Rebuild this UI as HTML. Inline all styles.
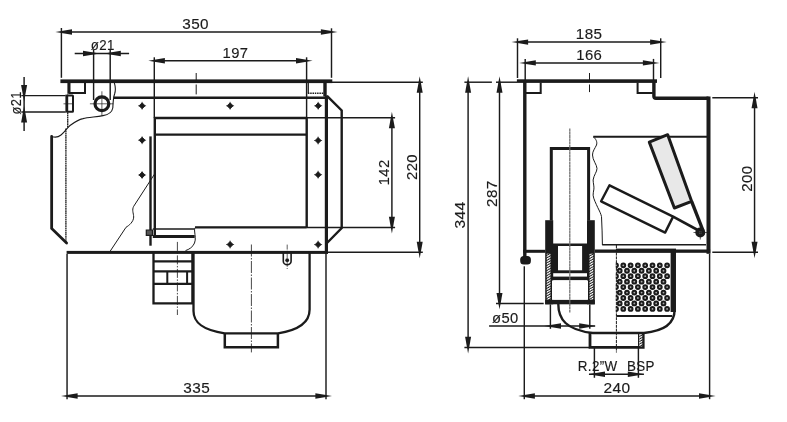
<!DOCTYPE html>
<html lang="en">
<head>
<meta charset="utf-8">
<title>Skimmer dimensions</title>
<style>
html,body{margin:0;padding:0;background:#fff;}
body{width:787px;height:422px;overflow:hidden;}
svg{display:block;will-change:transform;filter:grayscale(1);}
text{font-family:"Liberation Sans",Arial,Helvetica,sans-serif;fill:#1b1b1b;stroke:#1b1b1b;stroke-width:0.15px;}
</style>
</head>
<body>
<svg width="787" height="422" viewBox="0 0 787 422">
<defs>
<pattern id="hatch" width="2.2" height="2.2" patternUnits="userSpaceOnUse" patternTransform="rotate(-30)">
<rect width="2.2" height="2.2" fill="#1b1b1b"/><rect width="2.2" height="1.2" fill="#fff"/>
</pattern>
</defs>
<rect width="787" height="422" fill="#fff"/>
<line x1="61.4" y1="31.95" x2="331.5" y2="31.95" stroke="#1b1b1b" stroke-width="1.45" />
<line x1="61.4" y1="28" x2="61.4" y2="77.8" stroke="#1b1b1b" stroke-width="1.45" />
<line x1="331.5" y1="28.3" x2="331.5" y2="77.8" stroke="#1b1b1b" stroke-width="1.45" />
<polygon points="55.4,31.95 72.0,29.25 72.0,34.65" fill="#1b1b1b"/>
<polygon points="337.5,31.95 320.9,29.25 320.9,34.65" fill="#1b1b1b"/>
<line x1="154.3" y1="60.8" x2="306.6" y2="60.8" stroke="#1b1b1b" stroke-width="1.45" />
<line x1="154.3" y1="57.3" x2="154.3" y2="118" stroke="#1b1b1b" stroke-width="1.45" />
<line x1="306.6" y1="57.3" x2="306.6" y2="118" stroke="#1b1b1b" stroke-width="1.45" />
<polygon points="148.3,60.8 164.9,58.1 164.9,63.5" fill="#1b1b1b"/>
<polygon points="312.6,60.8 296.0,58.1 296.0,63.5" fill="#1b1b1b"/>
<line x1="74.7" y1="53.5" x2="129.1" y2="53.5" stroke="#1b1b1b" stroke-width="1.45" />
<line x1="93.6" y1="49.5" x2="93.6" y2="100" stroke="#1b1b1b" stroke-width="1.45" />
<line x1="110.2" y1="49.5" x2="110.2" y2="100" stroke="#1b1b1b" stroke-width="1.45" />
<polygon points="99.6,53.5 83.0,50.8 83.0,56.2" fill="#1b1b1b"/>
<polygon points="104.2,53.5 120.8,50.8 120.8,56.2" fill="#1b1b1b"/>
<line x1="24.1" y1="76.9" x2="24.1" y2="131" stroke="#1b1b1b" stroke-width="1.45" />
<line x1="21.3" y1="95.6" x2="65.6" y2="95.6" stroke="#1b1b1b" stroke-width="1.45" />
<line x1="21.3" y1="111.9" x2="65.6" y2="111.9" stroke="#1b1b1b" stroke-width="1.45" />
<polygon points="24.1,101.6 21.1,85.0 27.1,85.0" fill="#1b1b1b"/>
<polygon points="24.1,105.9 21.1,122.5 27.1,122.5" fill="#1b1b1b"/>
<line x1="391.9" y1="117.7" x2="391.9" y2="227.4" stroke="#1b1b1b" stroke-width="1.45" />
<line x1="306.7" y1="117.7" x2="395.1" y2="117.7" stroke="#1b1b1b" stroke-width="1.45" />
<line x1="306.7" y1="227.4" x2="395.1" y2="227.4" stroke="#1b1b1b" stroke-width="1.45" />
<polygon points="391.9,111.7 388.9,128.3 394.9,128.3" fill="#1b1b1b"/>
<polygon points="391.9,233.4 388.9,216.8 394.9,216.8" fill="#1b1b1b"/>
<line x1="419.7" y1="82.2" x2="419.7" y2="252.3" stroke="#1b1b1b" stroke-width="1.45" />
<line x1="332" y1="82.2" x2="422.8" y2="82.2" stroke="#1b1b1b" stroke-width="1.45" />
<line x1="326.5" y1="252.3" x2="422.8" y2="252.3" stroke="#1b1b1b" stroke-width="1.45" />
<polygon points="419.7,76.2 416.7,92.8 422.7,92.8" fill="#1b1b1b"/>
<polygon points="419.7,258.3 416.7,241.7 422.7,241.7" fill="#1b1b1b"/>
<line x1="67.05" y1="395.95" x2="326" y2="395.95" stroke="#1b1b1b" stroke-width="1.45" />
<line x1="67.05" y1="254" x2="67.05" y2="399.2" stroke="#1b1b1b" stroke-width="1.45" />
<line x1="326" y1="254" x2="326" y2="399.2" stroke="#1b1b1b" stroke-width="1.45" />
<polygon points="61.05,395.95 77.65,393.25 77.65,398.65" fill="#1b1b1b"/>
<polygon points="332.0,395.95 315.4,393.25 315.4,398.65" fill="#1b1b1b"/>
<line x1="468.1" y1="82" x2="468.1" y2="347.4" stroke="#1b1b1b" stroke-width="1.45" />
<line x1="464.4" y1="82.2" x2="491.9" y2="82.2" stroke="#1b1b1b" stroke-width="1.45" />
<line x1="464.4" y1="347.4" x2="589.8" y2="347.4" stroke="#1b1b1b" stroke-width="1.45" />
<polygon points="468.1,76.2 465.1,92.8 471.1,92.8" fill="#1b1b1b"/>
<polygon points="468.1,353.4 465.1,336.8 471.1,336.8" fill="#1b1b1b"/>
<line x1="499.5" y1="81.9" x2="499.5" y2="303.5" stroke="#1b1b1b" stroke-width="1.45" />
<line x1="496" y1="82.2" x2="517" y2="82.2" stroke="#1b1b1b" stroke-width="1.45" />
<line x1="496" y1="303.5" x2="543.7" y2="303.5" stroke="#1b1b1b" stroke-width="1.45" />
<polygon points="499.5,76.2 496.5,92.8 502.5,92.8" fill="#1b1b1b"/>
<polygon points="499.5,309.5 496.5,292.9 502.5,292.9" fill="#1b1b1b"/>
<rect x="60.4" y="79.4" width="271.9" height="3.7" fill="#1b1b1b"/>
<rect x="67.4" y="82" width="3.1" height="11.8" fill="#1b1b1b"/>
<line x1="69" y1="93" x2="86" y2="93" stroke="#1b1b1b" stroke-width="2" />
<line x1="85" y1="82.6" x2="85" y2="94" stroke="#1b1b1b" stroke-width="2" />
<rect x="65.4" y="94.6" width="2.8" height="18.0" fill="#1b1b1b"/>
<path d="M67,95.4 H72.4 Q73,95.4 73,96 V111.2 Q73,111.8 72.4,111.8 H67" fill="none" stroke="#1b1b1b" stroke-width="2.0" />
<line x1="63.5" y1="103.8" x2="73" y2="103.8" stroke="#1b1b1b" stroke-width="0.7" />
<line x1="67.7" y1="112.5" x2="67.7" y2="128" stroke="#2a2a2a" stroke-width="1.4" stroke-dasharray="1.7 0.45"/>
<line x1="65.9" y1="128.5" x2="65.9" y2="243" stroke="#2a2a2a" stroke-width="1.4" stroke-dasharray="1.7 0.45"/>
<circle cx="101.9" cy="103.8" r="6.9" fill="none" stroke="#1b1b1b" stroke-width="3.2"/>
<line x1="89.9" y1="103.8" x2="113.4" y2="103.8" stroke="#1b1b1b" stroke-width="0.7" />
<line x1="101.9" y1="91.3" x2="101.9" y2="115.8" stroke="#1b1b1b" stroke-width="0.7" />
<path d="M114.3,82.6 C115.6,87 115.6,91 114.6,94 C113.4,97 113,103 112.8,108 C112,112.5 109,114.5 103,115.6 C95,117 88,117.2 83,118.6 C78,119.5 74,122.5 70,125.5 C67,128 64.5,132.5 61,135 C58,137.3 54.5,137.6 51.5,136.2" fill="none" stroke="#1b1b1b" stroke-width="1.1" />
<line x1="113.5" y1="97.75" x2="327" y2="97.75" stroke="#1b1b1b" stroke-width="2.4" />
<line x1="196.2" y1="73" x2="196.2" y2="94.4" stroke="#1b1b1b" stroke-width="1.0" stroke-dasharray="9 2.5 12"/>
<path d="M307.9,93.3 H324 " fill="none" stroke="#1b1b1b" stroke-width="1.6" stroke-dasharray="1.5 0.8"/>
<line x1="308.3" y1="83" x2="308.3" y2="93.6" stroke="#1b1b1b" stroke-width="1.2" />
<rect x="323.3" y="82.5" width="3.4" height="14.0" fill="#1b1b1b"/>
<rect x="324.8" y="95.5" width="3.2" height="158.3" fill="#1b1b1b"/>
<path d="M327,95.8 L341.7,110.4 V228 L327,243" fill="none" stroke="#1b1b1b" stroke-width="2.4" />
<path d="M154.8,236 V118 H306.7 V227.4" fill="none" stroke="#1b1b1b" stroke-width="2.4" stroke-linejoin="round"/>
<line x1="154.8" y1="134.6" x2="306.7" y2="134.6" stroke="#1b1b1b" stroke-width="2.4" />
<path d="M306.7,227.4 H196 C194.5,227.4 194.5,229 194.6,231 C195,236 196,239 194.5,243 C193,247 189,249.5 185.5,250.6" fill="none" stroke="#1b1b1b" stroke-width="1.0" />
<line x1="195" y1="227.4" x2="306.7" y2="227.4" stroke="#1b1b1b" stroke-width="2.4" />
<line x1="150.5" y1="136.4" x2="150.5" y2="245.7" stroke="#1b1b1b" stroke-width="2.4" />
<path d="M146.3,230 H152.5 V235.3 H146.3 Z" fill="#555" stroke="#1b1b1b" stroke-width="1.2" />
<line x1="152.8" y1="229" x2="194.7" y2="229" stroke="#1b1b1b" stroke-width="1.5" />
<line x1="152.8" y1="236.6" x2="194.7" y2="236.6" stroke="#1b1b1b" stroke-width="3" />
<rect x="66.6" y="250.9" width="261.2" height="3.0" fill="#1b1b1b"/>
<path d="M139.1,105.8 L142.1,102.8 L145.1,105.8 L142.1,108.8 Z" fill="#1b1b1b" stroke="#1b1b1b" stroke-width="0.9" stroke-linejoin="miter"/>
<line x1="138.1" y1="105.8" x2="146.1" y2="105.8" stroke="#1b1b1b" stroke-width="0.6" />
<line x1="142.1" y1="101.8" x2="142.1" y2="109.8" stroke="#1b1b1b" stroke-width="0.6" />
<path d="M227.1,105.8 L230.1,102.8 L233.1,105.8 L230.1,108.8 Z" fill="#1b1b1b" stroke="#1b1b1b" stroke-width="0.9" stroke-linejoin="miter"/>
<line x1="226.1" y1="105.8" x2="234.1" y2="105.8" stroke="#1b1b1b" stroke-width="0.6" />
<line x1="230.1" y1="101.8" x2="230.1" y2="109.8" stroke="#1b1b1b" stroke-width="0.6" />
<path d="M315.2,105.8 L318.2,102.8 L321.2,105.8 L318.2,108.8 Z" fill="#1b1b1b" stroke="#1b1b1b" stroke-width="0.9" stroke-linejoin="miter"/>
<line x1="314.2" y1="105.8" x2="322.2" y2="105.8" stroke="#1b1b1b" stroke-width="0.6" />
<line x1="318.2" y1="101.8" x2="318.2" y2="109.8" stroke="#1b1b1b" stroke-width="0.6" />
<path d="M139.1,140.2 L142.1,137.2 L145.1,140.2 L142.1,143.2 Z" fill="#1b1b1b" stroke="#1b1b1b" stroke-width="0.9" stroke-linejoin="miter"/>
<line x1="138.1" y1="140.2" x2="146.1" y2="140.2" stroke="#1b1b1b" stroke-width="0.6" />
<line x1="142.1" y1="136.2" x2="142.1" y2="144.2" stroke="#1b1b1b" stroke-width="0.6" />
<path d="M139.1,175 L142.1,172.0 L145.1,175 L142.1,178.0 Z" fill="#1b1b1b" stroke="#1b1b1b" stroke-width="0.9" stroke-linejoin="miter"/>
<line x1="138.1" y1="175" x2="146.1" y2="175" stroke="#1b1b1b" stroke-width="0.6" />
<line x1="142.1" y1="171.0" x2="142.1" y2="179.0" stroke="#1b1b1b" stroke-width="0.6" />
<path d="M315.1,140.5 L318.1,137.5 L321.1,140.5 L318.1,143.5 Z" fill="#1b1b1b" stroke="#1b1b1b" stroke-width="0.9" stroke-linejoin="miter"/>
<line x1="314.1" y1="140.5" x2="322.1" y2="140.5" stroke="#1b1b1b" stroke-width="0.6" />
<line x1="318.1" y1="136.5" x2="318.1" y2="144.5" stroke="#1b1b1b" stroke-width="0.6" />
<path d="M315.1,174.7 L318.1,171.7 L321.1,174.7 L318.1,177.7 Z" fill="#1b1b1b" stroke="#1b1b1b" stroke-width="0.9" stroke-linejoin="miter"/>
<line x1="314.1" y1="174.7" x2="322.1" y2="174.7" stroke="#1b1b1b" stroke-width="0.6" />
<line x1="318.1" y1="170.7" x2="318.1" y2="178.7" stroke="#1b1b1b" stroke-width="0.6" />
<path d="M227.1,244.5 L230.1,241.5 L233.1,244.5 L230.1,247.5 Z" fill="#1b1b1b" stroke="#1b1b1b" stroke-width="0.9" stroke-linejoin="miter"/>
<line x1="226.1" y1="244.5" x2="234.1" y2="244.5" stroke="#1b1b1b" stroke-width="0.6" />
<line x1="230.1" y1="240.5" x2="230.1" y2="248.5" stroke="#1b1b1b" stroke-width="0.6" />
<path d="M315.1,244.6 L318.1,241.6 L321.1,244.6 L318.1,247.6 Z" fill="#1b1b1b" stroke="#1b1b1b" stroke-width="0.9" stroke-linejoin="miter"/>
<line x1="314.1" y1="244.6" x2="322.1" y2="244.6" stroke="#1b1b1b" stroke-width="0.6" />
<line x1="318.1" y1="240.6" x2="318.1" y2="248.6" stroke="#1b1b1b" stroke-width="0.6" />
<path d="M51.65,136.4 V228.5 L66.6,243" fill="none" stroke="#1b1b1b" stroke-width="2.8" stroke-linecap="round"/>
<path d="M154.6,174 L133.7,206.3 C131.7,210 133.5,213 133.7,217 C133.5,222 129,225.5 126,227.3 L110.3,251" fill="none" stroke="#1b1b1b" stroke-width="1.0" />
<path d="M153.5,252 V303.3 H192.4 V252" fill="none" stroke="#1b1b1b" stroke-width="2.3" />
<line x1="153.5" y1="261.4" x2="192.4" y2="261.4" stroke="#1b1b1b" stroke-width="2.3" />
<line x1="153.5" y1="271.3" x2="192.4" y2="271.3" stroke="#1b1b1b" stroke-width="2.3" />
<line x1="153.5" y1="283.9" x2="192.4" y2="283.9" stroke="#1b1b1b" stroke-width="2.3" />
<line x1="167.3" y1="271.3" x2="167.3" y2="283.9" stroke="#1b1b1b" stroke-width="2.0" />
<line x1="187.1" y1="271.3" x2="187.1" y2="283.9" stroke="#1b1b1b" stroke-width="2.0" />
<line x1="177.4" y1="241.9" x2="177.4" y2="315" stroke="#1b1b1b" stroke-width="0.8" stroke-dasharray="9 1.5 1.5 1.5"/>
<path d="M193.5,252 V311 C193.5,323 203,330 224.7,333.3 H278 C299.5,330 309.6,322 309.6,309.5 V252" fill="none" stroke="#1b1b1b" stroke-width="2.3" />
<path d="M224.8,333.3 V347.2 H277.9 V333.3" fill="none" stroke="#1b1b1b" stroke-width="2.5" />
<line x1="251.4" y1="244.5" x2="251.4" y2="352.4" stroke="#1b1b1b" stroke-width="0.8" stroke-dasharray="12 1.5 1.5 1.5"/>
<path d="M283.3,253 V261.3 A3.9,3.5 0 0 0 291.1,261.3 V253" fill="none" stroke="#1b1b1b" stroke-width="1.6" />
<circle cx="287.2" cy="260.2" r="1.9" fill="#1b1b1b"/>
<line x1="287.2" y1="244.6" x2="287.2" y2="269" stroke="#1b1b1b" stroke-width="0.7" stroke-dasharray="5 1.2 1.2 1.2"/>
<line x1="517.5" y1="42.05" x2="660.7" y2="42.05" stroke="#1b1b1b" stroke-width="1.45" />
<line x1="517.5" y1="38.3" x2="517.5" y2="78" stroke="#1b1b1b" stroke-width="1.45" />
<line x1="660.7" y1="38.3" x2="660.7" y2="78" stroke="#1b1b1b" stroke-width="1.45" />
<polygon points="511.5,42.1 528.1,39.4 528.1,44.8" fill="#1b1b1b"/>
<polygon points="666.7,42.1 650.1,39.4 650.1,44.8" fill="#1b1b1b"/>
<line x1="525.2" y1="62.9" x2="653.5" y2="62.9" stroke="#1b1b1b" stroke-width="1.45" />
<line x1="525.2" y1="58.9" x2="525.2" y2="80" stroke="#1b1b1b" stroke-width="1.45" />
<line x1="653.5" y1="58.9" x2="653.5" y2="80" stroke="#1b1b1b" stroke-width="1.45" />
<polygon points="519.2,62.9 535.8,60.2 535.8,65.6" fill="#1b1b1b"/>
<polygon points="659.5,62.9 642.9,60.2 642.9,65.6" fill="#1b1b1b"/>
<rect x="516.9" y="79.3" width="140.1" height="3.6" fill="#1b1b1b"/>
<rect x="523.1" y="81" width="3.4" height="177" fill="#1b1b1b"/>
<rect x="520.2" y="256" width="10.7" height="8.6" rx="3.6" ry="3.6" fill="#1b1b1b"/>
<path d="M526,92.9 H540.7 V82.5" fill="none" stroke="#1b1b1b" stroke-width="2.0" />
<path d="M652.8,93.1 H637.6 V82.5" fill="none" stroke="#1b1b1b" stroke-width="2.0" />
<line x1="589.5" y1="73" x2="589.5" y2="92.1" stroke="#1b1b1b" stroke-width="1.0" stroke-dasharray="9 2.5 12"/>
<path d="M653.9,81 V96.2 Q653.9,98.2 656,98.2 H708.5" fill="none" stroke="#1b1b1b" stroke-width="3.4" />
<rect x="706.5" y="96.5" width="4.0" height="157.3" fill="#1b1b1b"/>
<line x1="754.55" y1="97.75" x2="754.55" y2="252.3" stroke="#1b1b1b" stroke-width="1.45" />
<line x1="712.3" y1="97.75" x2="758" y2="97.75" stroke="#1b1b1b" stroke-width="1.45" />
<line x1="712.3" y1="252.3" x2="758" y2="252.3" stroke="#1b1b1b" stroke-width="1.45" />
<polygon points="754.55,91.75 751.55,108.35 757.55,108.35" fill="#1b1b1b"/>
<polygon points="754.55,258.3 751.55,241.7 757.55,241.7" fill="#1b1b1b"/>
<line x1="593.3" y1="136.8" x2="707.5" y2="136.8" stroke="#1b1b1b" stroke-width="1.9" />
<path d="M593.3,136.8 C596,139 597.5,142 596.5,145 C595,148.5 592.5,151 592.5,155 C592.5,160 597,165 597,168.5 C597,172 593.8,175 593.1,180 C593.3,184 594.2,186.5 593.9,189.1 C593.6,191.5 593,193 593.1,195.2 C593.5,199 596,203.5 597.7,207.4 C599.5,211 601,214 601.5,216.6 C602,226 602.3,236 602.4,245" fill="none" stroke="#1b1b1b" stroke-width="1.0" />
<path d="M551.3,220.5 V148.5 H588.6 V220.5" fill="none" stroke="#1b1b1b" stroke-width="3.0" />
<rect x="545.2" y="220.2" width="8.0" height="84.1" fill="#1b1b1b"/>
<rect x="587.0" y="220.2" width="7.8" height="84.1" fill="#1b1b1b"/>
<rect x="546.7" y="253.7" width="3.8" height="46" fill="url(#hatch)"/>
<rect x="589.5" y="253.7" width="3.8" height="46" fill="url(#hatch)"/>
<line x1="552" y1="244.3" x2="588.4" y2="244.3" stroke="#1b1b1b" stroke-width="1.5" />
<rect x="553" y="245" width="34.2" height="28.2" fill="#1b1b1b"/>
<rect x="558" y="246" width="24.1" height="24.3" fill="#fff"/>
<rect x="551.4" y="276.6" width="37.4" height="3.6" fill="#1b1b1b"/>
<rect x="552" y="280.5" width="36" height="19.4" fill="#fff"/>
<rect x="545.2" y="299.9" width="49.6" height="4.4" fill="#1b1b1b"/>
<rect x="523.3" y="249.8" width="22.1" height="3.0" fill="#1b1b1b"/>
<rect x="594.8" y="249.5" width="115.4" height="3.3" fill="#1b1b1b"/>
<path d="M602.2,244.7 H706" fill="none" stroke="#1b1b1b" stroke-width="1.6" />
<line x1="616.4" y1="245" x2="616.4" y2="352.5" stroke="#1b1b1b" stroke-width="1.0" stroke-dasharray="3 0.8"/>
<rect x="616" y="248.6" width="60" height="3.8" fill="#1b1b1b"/>
<rect x="670.6" y="252" width="5.3" height="60" fill="#1b1b1b"/>
<line x1="616.3" y1="316.1" x2="672" y2="316.1" stroke="#1b1b1b" stroke-width="2.0" />
<clipPath id="bk"><rect x="615.8" y="255" width="60" height="60"/></clipPath>
<g fill="#aaa" stroke="#1b1b1b" stroke-width="2.0" clip-path="url(#bk)">
<circle cx="616.0" cy="265.3" r="1.9"/>
<circle cx="623.3" cy="265.3" r="1.9"/>
<circle cx="630.6" cy="265.3" r="1.9"/>
<circle cx="637.9" cy="265.3" r="1.9"/>
<circle cx="645.2" cy="265.3" r="1.9"/>
<circle cx="652.5" cy="265.3" r="1.9"/>
<circle cx="659.8" cy="265.3" r="1.9"/>
<circle cx="667.1" cy="265.3" r="1.9"/>
<circle cx="619.7" cy="270.75" r="1.9"/>
<circle cx="627.0" cy="270.75" r="1.9"/>
<circle cx="634.3" cy="270.75" r="1.9"/>
<circle cx="641.6" cy="270.75" r="1.9"/>
<circle cx="648.9" cy="270.75" r="1.9"/>
<circle cx="656.2" cy="270.75" r="1.9"/>
<circle cx="663.5" cy="270.75" r="1.9"/>
<circle cx="616.0" cy="276.2" r="1.9"/>
<circle cx="623.3" cy="276.2" r="1.9"/>
<circle cx="630.6" cy="276.2" r="1.9"/>
<circle cx="637.9" cy="276.2" r="1.9"/>
<circle cx="645.2" cy="276.2" r="1.9"/>
<circle cx="652.5" cy="276.2" r="1.9"/>
<circle cx="659.8" cy="276.2" r="1.9"/>
<circle cx="667.1" cy="276.2" r="1.9"/>
<circle cx="619.7" cy="281.65" r="1.9"/>
<circle cx="627.0" cy="281.65" r="1.9"/>
<circle cx="634.3" cy="281.65" r="1.9"/>
<circle cx="641.6" cy="281.65" r="1.9"/>
<circle cx="648.9" cy="281.65" r="1.9"/>
<circle cx="656.2" cy="281.65" r="1.9"/>
<circle cx="663.5" cy="281.65" r="1.9"/>
<circle cx="616.0" cy="287.1" r="1.9"/>
<circle cx="623.3" cy="287.1" r="1.9"/>
<circle cx="630.6" cy="287.1" r="1.9"/>
<circle cx="637.9" cy="287.1" r="1.9"/>
<circle cx="645.2" cy="287.1" r="1.9"/>
<circle cx="652.5" cy="287.1" r="1.9"/>
<circle cx="659.8" cy="287.1" r="1.9"/>
<circle cx="667.1" cy="287.1" r="1.9"/>
<circle cx="619.7" cy="292.55" r="1.9"/>
<circle cx="627.0" cy="292.55" r="1.9"/>
<circle cx="634.3" cy="292.55" r="1.9"/>
<circle cx="641.6" cy="292.55" r="1.9"/>
<circle cx="648.9" cy="292.55" r="1.9"/>
<circle cx="656.2" cy="292.55" r="1.9"/>
<circle cx="663.5" cy="292.55" r="1.9"/>
<circle cx="616.0" cy="298.0" r="1.9"/>
<circle cx="623.3" cy="298.0" r="1.9"/>
<circle cx="630.6" cy="298.0" r="1.9"/>
<circle cx="637.9" cy="298.0" r="1.9"/>
<circle cx="645.2" cy="298.0" r="1.9"/>
<circle cx="652.5" cy="298.0" r="1.9"/>
<circle cx="659.8" cy="298.0" r="1.9"/>
<circle cx="667.1" cy="298.0" r="1.9"/>
<circle cx="619.7" cy="303.45" r="1.9"/>
<circle cx="627.0" cy="303.45" r="1.9"/>
<circle cx="634.3" cy="303.45" r="1.9"/>
<circle cx="641.6" cy="303.45" r="1.9"/>
<circle cx="648.9" cy="303.45" r="1.9"/>
<circle cx="656.2" cy="303.45" r="1.9"/>
<circle cx="663.5" cy="303.45" r="1.9"/>
<circle cx="616.0" cy="308.9" r="1.9"/>
<circle cx="623.3" cy="308.9" r="1.9"/>
<circle cx="630.6" cy="308.9" r="1.9"/>
<circle cx="637.9" cy="308.9" r="1.9"/>
<circle cx="645.2" cy="308.9" r="1.9"/>
<circle cx="652.5" cy="308.9" r="1.9"/>
<circle cx="659.8" cy="308.9" r="1.9"/>
<circle cx="667.1" cy="308.9" r="1.9"/>
</g>
<path d="M674.6,252 V310 C674.6,324 664,331 644,333" fill="none" stroke="#1b1b1b" stroke-width="2.4" />
<path d="M558.3,304 C558.3,319 566,330 592.8,333 H644" fill="none" stroke="#1b1b1b" stroke-width="2.4" />
<path d="M590,333 V347.4 H643.2 V333" fill="none" stroke="#1b1b1b" stroke-width="2.8" />
<rect x="639.3" y="335" width="3" height="11.4" fill="url(#hatch)"/>
<line x1="638.6" y1="333" x2="638.6" y2="347.6" stroke="#1b1b1b" stroke-width="1.2" />
<path d="M649.3,142.1 L667.7,134.7 L691.6,201.3 L674.4,208.0 Z" fill="#e8e8e8" stroke="#1b1b1b" stroke-width="3.0" stroke-linejoin="round"/>
<path d="M691.6,201.3 L703,230.5" fill="none" stroke="#1b1b1b" stroke-width="3.4" />
<path d="M609.5,185.3 L601.1,201.3 L665.1,232.6 L673.1,216.6 Z" fill="#fff" stroke="#1b1b1b" stroke-width="2.4" stroke-linejoin="round"/>
<path d="M673.1,216.6 L700,231.3" fill="none" stroke="#1b1b1b" stroke-width="2.7" />
<circle cx="700.3" cy="232.5" r="5.0" fill="#1b1b1b"/>
<circle cx="700.3" cy="232.5" r="1.5" fill="#5a5a5a"/>
<line x1="693.5" y1="232.5" x2="707" y2="232.5" stroke="#1b1b1b" stroke-width="0.7" />
<line x1="700.3" y1="226" x2="700.3" y2="239.5" stroke="#1b1b1b" stroke-width="0.7" />
<line x1="569.8" y1="128.4" x2="569.8" y2="312.6" stroke="#6a6a6a" stroke-width="1.2" stroke-dasharray="3 0.3"/>
<line x1="489.1" y1="326" x2="595.1" y2="326" stroke="#1b1b1b" stroke-width="1.45" />
<line x1="550.4" y1="304.4" x2="550.4" y2="328.8" stroke="#1b1b1b" stroke-width="1.45" />
<line x1="589.8" y1="304.4" x2="589.8" y2="328.8" stroke="#1b1b1b" stroke-width="1.45" />
<polygon points="544.4,326 561.0,323.3 561.0,328.7" fill="#1b1b1b"/>
<polygon points="595.8,326 579.2,323.3 579.2,328.7" fill="#1b1b1b"/>
<line x1="589" y1="374.3" x2="643.9" y2="374.3" stroke="#1b1b1b" stroke-width="1.45" />
<line x1="594.4" y1="348" x2="594.4" y2="377.8" stroke="#1b1b1b" stroke-width="1.45" />
<line x1="638.4" y1="348" x2="638.4" y2="377.8" stroke="#1b1b1b" stroke-width="1.45" />
<polygon points="588.4,374.3 605.0,371.6 605.0,377.0" fill="#1b1b1b"/>
<polygon points="644.4,374.3 627.8,371.6 627.8,377.0" fill="#1b1b1b"/>
<line x1="524.3" y1="395.95" x2="709.6" y2="395.95" stroke="#1b1b1b" stroke-width="1.45" />
<line x1="524.3" y1="266.3" x2="524.3" y2="399.2" stroke="#1b1b1b" stroke-width="1.45" />
<line x1="709.6" y1="254" x2="709.6" y2="399.2" stroke="#1b1b1b" stroke-width="1.45" />
<polygon points="518.3,395.95 534.9,393.25 534.9,398.65" fill="#1b1b1b"/>
<polygon points="715.6,395.95 699.0,393.25 699.0,398.65" fill="#1b1b1b"/>
<text transform="translate(182.3,29.0) scale(1.054,1)" font-size="14.5" letter-spacing="0.4">350</text>
<text transform="translate(222.53,57.98) scale(1.015,1)" font-size="14.57" letter-spacing="0.4">197</text>
<text transform="translate(90.72,50.45) scale(0.908,1)" font-size="14.64" letter-spacing="0.4">ø21</text>
<text transform="translate(21.43,114.4) rotate(-90) scale(0.874,1)" font-size="14.71" letter-spacing="0.4">ø21</text>
<text transform="translate(389.0,185.35) rotate(-90) scale(0.996,1)" font-size="14.85" letter-spacing="0.4">142</text>
<text transform="translate(416.68,180.03) rotate(-90) scale(1.062,1)" font-size="14.02" letter-spacing="0.4">220</text>
<text transform="translate(465.18,228.43) rotate(-90) scale(1.052,1)" font-size="14.71" letter-spacing="0.4">344</text>
<text transform="translate(496.68,206.93) rotate(-90) scale(1.031,1)" font-size="14.71" letter-spacing="0.4">287</text>
<text transform="translate(751.7,191.68) rotate(-90) scale(1.025,1)" font-size="14.64" letter-spacing="0.4">200</text>
<text transform="translate(183.35,392.95) scale(1.048,1)" font-size="14.64" letter-spacing="0.4">335</text>
<text transform="translate(575.85,39.48) scale(1.019,1)" font-size="14.92" letter-spacing="0.4">185</text>
<text transform="translate(576.25,60.15) scale(0.986,1)" font-size="15.12" letter-spacing="0.4">166</text>
<text transform="translate(491.98,323.23) scale(0.989,1)" font-size="14.92" letter-spacing="0.4">ø50</text>
<text transform="translate(577.73,370.75) scale(0.906,1)" font-size="14.85" letter-spacing="0.4">R.2”W</text>
<text transform="translate(627.0,370.68) scale(0.911,1)" font-size="14.71" letter-spacing="0.4">BSP</text>
<text transform="translate(603.48,392.95) scale(1.058,1)" font-size="14.64" letter-spacing="0.4">240</text>
</svg>
</body>
</html>
